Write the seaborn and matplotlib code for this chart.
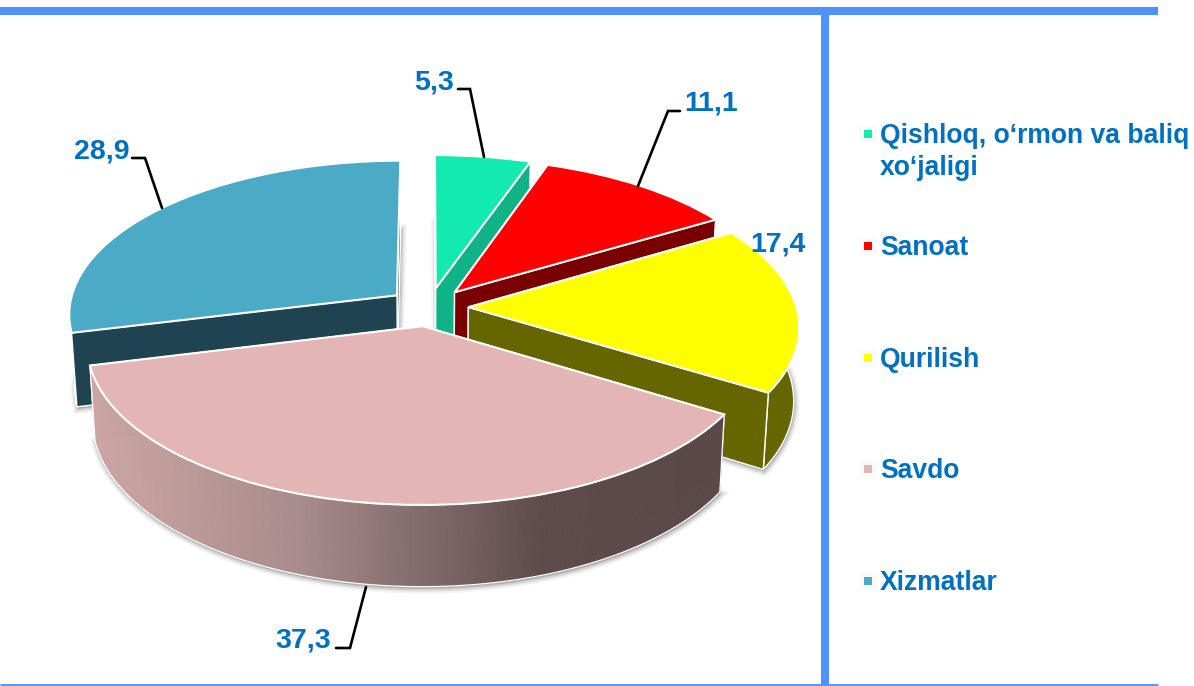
import numpy as np
import matplotlib
matplotlib.use("Agg")
import matplotlib.pyplot as plt
from matplotlib.colors import LinearSegmentedColormap
from matplotlib.transforms import Affine2D, Transform
import seaborn as sns

# ---- data ----
categories = ["Qishloq, o‘rmon va baliq\nxo‘jaligi", "Sanoat", "Qurilish", "Savdo", "Xizmatlar"]
values = [5.3, 11.1, 17.4, 37.3, 28.9]
value_labels = ["5,3", "11,1", "17,4", "37,3", "28,9"]
top_colors = ["#12EAB0", "#FF0000", "#FFFF00", "#E3B5B5", "#4BAAC6"]
side_colors = ["#0FB386", "#7A0000", "#666600", "#5D4A4A", "#1F4350"]
explode = [0.125, 0.125, 0.12, 0.125, 0.125]

# ---- layout ----
label_pos = [(434, 82.5), (711, 103.5), (778, 244.5), (303, 640.5), (102, 151.5)]
leaders = [
    [(458, 89), (470, 89), (484, 157)],
    [(680, 111), (668, 111), (638, 186)],
    None,
    [(336, 648), (350, 648), (366, 587)],
    [(132, 158), (145, 158), (162, 208)],
]
legend_y = [134, 246, 358, 469, 581]
legend_text_y = [152, 248, 360, 471, 583]
BLUE = "#4F92FF"
TEXT = "#0070C0"
CX, CY, RX, RY, K = 429.0, 307.0, 328.0, 153.0, 0.117

sns.set_theme(style="white")
plt.rcParams["font.family"] = ["Liberation Sans", "DejaVu Sans"]


class Perspective(Transform):
    input_dims = output_dims = 2
    is_affine = False

    def transform_non_affine(self, xy):
        xy = np.asarray(xy, dtype=float)
        w = 1.0 + K * xy[:, 1]
        return np.column_stack([xy[:, 0] / w, xy[:, 1] / w])


model = Perspective() + Affine2D().scale(RX, -RY).translate(CX, CY)


def drop(p):
    """Move points of the top surface to the bottom surface of the slab."""
    p = np.asarray(p, dtype=float)
    x = CX + (p[:, 0] - CX) * 0.985
    y = p[:, 1] + 74 + 0.045 * (p[:, 1] - 333)
    return np.column_stack([x, y])


def arc_of(w):
    th = np.radians(np.linspace(w.theta1, w.theta2, 200))
    cx0, cy0 = w.center
    pts = np.column_stack([cx0 + w.r * np.cos(th), cy0 + w.r * np.sin(th)])
    return model.transform(np.array([[cx0, cy0]])), model.transform(pts)


fig = plt.figure(figsize=(11.94, 6.86), dpi=100, facecolor="white")
ax = fig.add_axes([0, 0, 1, 1])
wedges, _ = ax.pie(values, colors=top_colors, startangle=90, counterclock=False,
                   explode=explode, radius=1,
                   wedgeprops=dict(edgecolor="white", linewidth=1.5))
ax.set_aspect("auto")
ax.set_xlim(0, 1194)
ax.set_ylim(686, 0)
ax.axis("off")

pink_cmap = LinearSegmentedColormap.from_list(
    "pink_side", [(0.0, "#CBA6A3"), (0.33, "#A88B8B"), (0.72, "#5D4A4A"), (1.0, "#5B4848")])
X0, X1 = 92.0, 720.0

# soft shadows under the slab
for w in wedges:
    apex, arc = arc_of(w)
    low = drop(np.vstack([apex, arc]))
    for lw, a in [(7, 0.08), (4.5, 0.12), (2.5, 0.18)]:
        ax.fill(low[:, 0] + 1, low[:, 1] + 2, facecolor=(0.45, 0.45, 0.45, a),
                edgecolor=(0.45, 0.45, 0.45, a), linewidth=lw, zorder=1)

# slices painted back to front
z = 5
for i in [4, 0, 1, 2, 3]:
    w = wedges[i]
    apex, arc = arc_of(w)
    faces = [np.vstack([apex, arc[:1]]), np.vstack([apex, arc[-1:]]), arc]
    faces.sort(key=lambda f: f[:, 1].mean())
    for f in faces:
        low = drop(f)
        poly = np.vstack([f, low[::-1]])
        if i == 3 and len(f) > 2:
            for j in range(len(f) - 1):
                t = np.clip((f[j, 0] - X0) / (X1 - X0), 0, 1)
                q = np.vstack([f[j:j + 2], low[j:j + 2][::-1]])
                col = pink_cmap(t)
                ax.fill(q[:, 0], q[:, 1], facecolor=col, edgecolor=col, linewidth=0.6, zorder=z)
            ax.fill(poly[:, 0], poly[:, 1], facecolor="none", edgecolor="white", linewidth=0.9, zorder=z)
        else:
            ax.fill(poly[:, 0], poly[:, 1], facecolor=side_colors[i], edgecolor="white",
                    linewidth=1.0, zorder=z)
        z += 1
    w.set_transform(model + ax.transData)
    w.set_zorder(z)
    w.set_clip_on(False)
    z += 1

TOP = z + 10
for i, leader in enumerate(leaders):
    if leader is not None:
        xs, ys = zip(*leader)
        ax.plot(xs, ys, color="black", lw=1.9, zorder=TOP, solid_joinstyle="miter")
    ax.text(*label_pos[i], value_labels[i], color=TEXT, fontsize=20.5, fontweight="bold",
            ha="center", va="center", zorder=TOP + 1)

# legend
ax.scatter([868] * 5, legend_y, marker="s", s=170, color="#FAFAFA", zorder=TOP, linewidths=0)
ax.scatter([868] * 5, legend_y, marker="s", s=33, c=top_colors, zorder=TOP + 1, linewidths=0)
for name, y in zip(categories, legend_text_y):
    ax.text(880, y, name, color=TEXT, fontsize=19.1, fontweight="bold", ha="left", va="center",
            linespacing=1.3, zorder=TOP + 1)

# frame rules
ax.plot([0, 1158], [11, 11], color=BLUE, lw=5.8, solid_capstyle="butt", zorder=TOP)
ax.plot([825, 825], [15, 686], color=BLUE, lw=5.8, solid_capstyle="butt", zorder=TOP)
ax.plot([0, 1158], [685, 685], color=BLUE, lw=2.0, solid_capstyle="butt", zorder=TOP)

fig.savefig("out.png", dpi=100, facecolor="white")
